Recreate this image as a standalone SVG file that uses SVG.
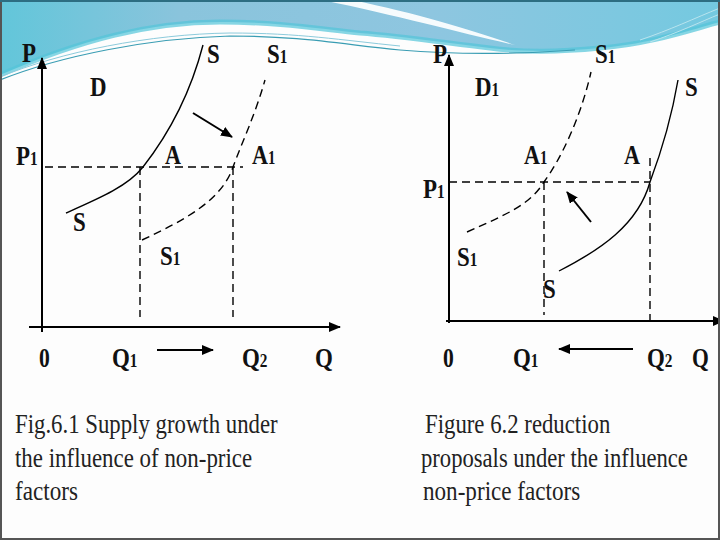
<svg xmlns="http://www.w3.org/2000/svg" width="720" height="540" viewBox="0 0 720 540">
<defs>
<linearGradient id="hb" x1="0" y1="0" x2="1" y2="0">
<stop offset="0" stop-color="#62c6da"/>
<stop offset="0.25" stop-color="#8ac4dc"/>
<stop offset="0.6" stop-color="#8ec6e0"/>
<stop offset="1" stop-color="#74c9e0"/>
</linearGradient>
<marker id="ah" viewBox="0 0 12 10" refX="11" refY="5" markerWidth="12" markerHeight="10" markerUnits="userSpaceOnUse" orient="auto">
<path d="M0,0 L12,5 L0,10 Z" fill="#000"/>
</marker>
<style>
.ax{stroke:#000;stroke-width:2;fill:none}
.sol{stroke:#000;stroke-width:1.4;fill:none}
.dash{stroke:#000;stroke-width:1.4;fill:none;stroke-dasharray:8 5}
.arr{stroke:#000;stroke-width:2;fill:none}
.lb{font-family:"Liberation Serif","Times New Roman",serif;font-weight:bold;font-size:27px;fill:#111}
.sub{font-size:18px}
.cap{font-family:"Liberation Serif","Times New Roman",serif;font-size:28px;fill:#222}
</style>
</defs>
<rect x="0" y="0" width="720" height="540" fill="#fdfdfd"/>
<g id="header">
<path d="M0,0 H720 V22 C690,30 650,44 600,48 C560,52 520,52 490,48 C440,42 400,36 360,33 C320,29 280,22 220,22 C150,22 80,40 0,75 Z" fill="url(#hb)"/>
<path d="M0,75 C80,40 150,22 220,22 C280,22 320,29 360,33 C400,36 440,42 490,48 C520,52 560,52 600,48 C650,44 690,30 720,22" fill="none" stroke="#52c4d8" stroke-width="5" opacity="0.7"/>
<path d="M322,0 L352,0 C420,14 470,30 515,45 C460,33 400,16 322,0 Z" fill="#ffffff" opacity="0.92"/>
<path d="M0,80 C60,56 150,38 230,36 C300,36 340,44 400,50 C460,55 520,54 575,50" fill="none" stroke="#3a9db3" stroke-width="1.2"/>
<path d="M0,77 C60,52 150,34 230,33 C300,33 340,40 400,46" fill="none" stroke="#8ccbdc" stroke-width="1"/>
<path d="M640,40 C670,30 695,18 720,8 M650,42 C680,32 700,22 720,14" fill="none" stroke="#b8e4ee" stroke-width="1"/>
</g>
<g id="connectors">
<line class="ax" x1="42" y1="332" x2="42" y2="58" marker-end="url(#ah)"/>
<line class="ax" x1="29" y1="327" x2="340" y2="327" marker-end="url(#ah)"/>
<line class="dash" x1="45" y1="167" x2="243" y2="167"/>
<line class="dash" x1="140" y1="167" x2="140" y2="317"/>
<line class="dash" x1="233" y1="167" x2="233" y2="317"/>
<path class="sol" d="M66,213 C100,198 128,186 143,167 C168,135 190,95 203,45"/>
<path class="dash" d="M142,240 C185,220 222,200 233,167 C243,140 255,115 265,80"/>
<line class="arr" x1="193" y1="113" x2="232" y2="137" marker-end="url(#ah)"/>
<line class="arr" x1="157" y1="350" x2="213" y2="350" marker-end="url(#ah)"/>
<line class="ax" x1="449" y1="323" x2="449" y2="55" marker-end="url(#ah)"/>
<line class="ax" x1="446" y1="321" x2="724" y2="321" marker-end="url(#ah)"/>
<line class="dash" x1="449" y1="182" x2="650" y2="182"/>
<line class="dash" x1="544" y1="182" x2="544" y2="315"/>
<line class="dash" x1="650" y1="158" x2="650" y2="323"/>
<path class="dash" d="M467,232 C505,215 530,205 544,182 C560,160 580,120 591,72"/>
<path class="sol" d="M559,271 C600,250 638,225 650,182 C662,150 672,115 678,80"/>
<line class="arr" x1="591" y1="222" x2="567" y2="192" marker-end="url(#ah)"/>
<line class="arr" x1="633" y1="349" x2="559" y2="349" marker-end="url(#ah)"/>
</g>
<g id="left-labels">
<text class="lb" transform="translate(22,62) scale(0.85,1)">P</text>
<text class="lb" transform="translate(207,63) scale(0.85,1)">S</text>
<text class="lb" transform="translate(267,63) scale(0.85,1)">S<tspan class="sub">1</tspan></text>
<text class="lb" transform="translate(90,96) scale(0.85,1)">D</text>
<text class="lb" transform="translate(16,165) scale(0.85,1)">P<tspan class="sub">1</tspan></text>
<text class="lb" transform="translate(165,164) scale(0.82,1)">A</text>
<text class="lb" transform="translate(252,164) scale(0.82,1)">A<tspan class="sub">1</tspan></text>
<text class="lb" transform="translate(73,231) scale(0.85,1)">S</text>
<text class="lb" transform="translate(160,265) scale(0.85,1)">S<tspan class="sub">1</tspan></text>
<text class="lb" transform="translate(39,367) scale(0.8,1)">0</text>
<text class="lb" transform="translate(112,367) scale(0.85,1)">Q<tspan class="sub">1</tspan></text>
<text class="lb" transform="translate(242,367) scale(0.85,1)">Q<tspan class="sub">2</tspan></text>
<text class="lb" transform="translate(315,367) scale(0.85,1)">Q</text>
</g>
<g id="right-labels">
<text class="lb" transform="translate(433,63) scale(0.85,1)">P</text>
<text class="lb" transform="translate(595,63) scale(0.85,1)">S<tspan class="sub">1</tspan></text>
<text class="lb" transform="translate(475,96) scale(0.85,1)">D<tspan class="sub">1</tspan></text>
<text class="lb" transform="translate(685,96) scale(0.85,1)">S</text>
<text class="lb" transform="translate(524,164) scale(0.82,1)">A<tspan class="sub">1</tspan></text>
<text class="lb" transform="translate(624,164) scale(0.82,1)">A</text>
<text class="lb" transform="translate(423,198) scale(0.85,1)">P<tspan class="sub">1</tspan></text>
<text class="lb" transform="translate(457,266) scale(0.85,1)">S<tspan class="sub">1</tspan></text>
<text class="lb" transform="translate(543,298) scale(0.85,1)">S</text>
<text class="lb" transform="translate(443,367) scale(0.8,1)">0</text>
<text class="lb" transform="translate(513,367) scale(0.85,1)">Q<tspan class="sub">1</tspan></text>
<text class="lb" transform="translate(647,367) scale(0.85,1)">Q<tspan class="sub">2</tspan></text>
<text class="lb" transform="translate(692,367) scale(0.8,1)">Q</text>
</g>
<g id="captions">
<text class="cap" transform="translate(15,433) scale(0.85,1)" textLength="309" lengthAdjust="spacingAndGlyphs">Fig.6.1 Supply growth under</text>
<text class="cap" transform="translate(15,467) scale(0.85,1)" textLength="279" lengthAdjust="spacingAndGlyphs">the influence of non-price</text>
<text class="cap" transform="translate(15,500) scale(0.85,1)" textLength="74" lengthAdjust="spacingAndGlyphs">factors</text>
<text class="cap" transform="translate(425,433) scale(0.85,1)" textLength="218" lengthAdjust="spacingAndGlyphs">Figure 6.2 reduction</text>
<text class="cap" transform="translate(421,467) scale(0.85,1)" textLength="314" lengthAdjust="spacingAndGlyphs">proposals under the influence</text>
<text class="cap" transform="translate(423,500) scale(0.85,1)" textLength="185" lengthAdjust="spacingAndGlyphs">non-price factors</text>
</g>
<rect x="1" y="1" width="718" height="538" fill="none" stroke="#555" stroke-width="2"/>
<line x1="0" y1="1" x2="720" y2="1" stroke="#2d6e82" stroke-width="2"/>
</svg>
